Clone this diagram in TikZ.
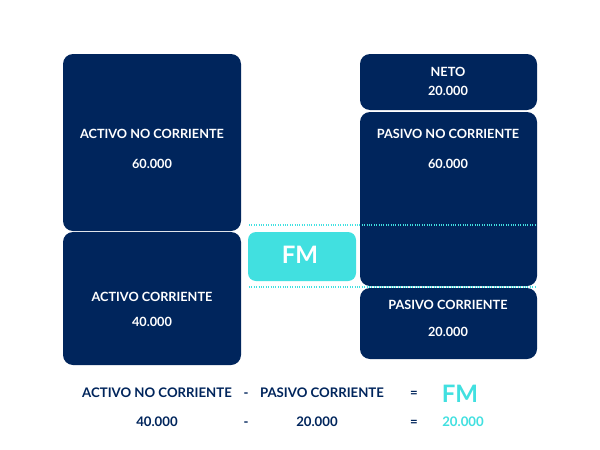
\documentclass[tikz,border=0pt]{standalone}
\usepackage{fontspec}
\setmainfont{Lato}
\definecolor{navy}{RGB}{0,37,92}
\definecolor{cyanfm}{RGB}{65,224,224}
\begin{document}
\begin{tikzpicture}[x=1pt,y=-1pt,
  blk/.style={fill=navy,rounded corners=10pt},
  fmbox/.style={fill=cyanfm,rounded corners=8pt},
  wt/.style={text=white,font=\bfseries\fontsize{12.7}{14}\selectfont,inner sep=0pt,anchor=base},
  nt/.style={text=navy,font=\bfseries\fontsize{13.2}{15}\selectfont,inner sep=0pt,anchor=base},
  big/.style={font=\bfseries\fontsize{24}{26}\selectfont,inner sep=0pt,anchor=base},
  dotl/.style={cyanfm,line width=1.2pt,dash pattern=on 0.6pt off 1.8pt}]
\useasboundingbox[fill=white] (0,0) rectangle (600,450);
% left boxes
\path[blk] (63,54) rectangle (241,231);
\path[blk] (63,232) rectangle (241,365);
% right boxes
\path[blk] (360,54) rectangle (537,110);
\path[blk] (360,112) rectangle (537,286);
\path[blk] (360,288) rectangle (537,359);
% FM box
\path[fmbox] (248,232) rectangle (356,281);
% dotted lines
\coordinate (d1a) at (249,225); \coordinate (d1b) at (536,225);
\coordinate (d2a) at (249,287); \coordinate (d2b) at (536,287);
\draw[dotl] (d1a) -- (d1b);
\draw[dotl] (d2a) -- (d2b);
% texts in boxes
\node[wt] (anc) at (152,138) {ACTIVO NO CORRIENTE};
\node[wt] (ancv) at (152,168) {60.000};
\node[wt] (ac) at (152,301) {ACTIVO CORRIENTE};
\node[wt] (acv) at (152,326) {40.000};
\node[wt] (ne) at (448,76) {NETO};
\node[wt] (nev) at (448,95) {20.000};
\node[wt] (pnc) at (448,138) {PASIVO NO CORRIENTE};
\node[wt] (pncv) at (448,168) {60.000};
\node[wt] (pc) at (448,309) {PASIVO CORRIENTE};
\node[wt] (pcv) at (448,336) {20.000};
\node[big,text=white] (fm) at (300,263) {FM};
% formula
\node[nt] (f1) at (157,397) {ACTIVO NO CORRIENTE};
\node[nt] (f2) at (246,397) {-};
\node[nt] (f3) at (322,397) {PASIVO CORRIENTE};
\node[nt] (f4) at (414,397) {=};
\node[big,text=cyanfm] (f5) at (460,402) {FM};
\node[nt] (g1) at (157,426) {40.000};
\node[nt] (g2) at (246,426) {-};
\node[nt] (g3) at (317,426) {20.000};
\node[nt] (g4) at (414,426) {=};
\node[nt,text=cyanfm] (g5) at (463,426) {20.000};
\end{tikzpicture}
\end{document}
